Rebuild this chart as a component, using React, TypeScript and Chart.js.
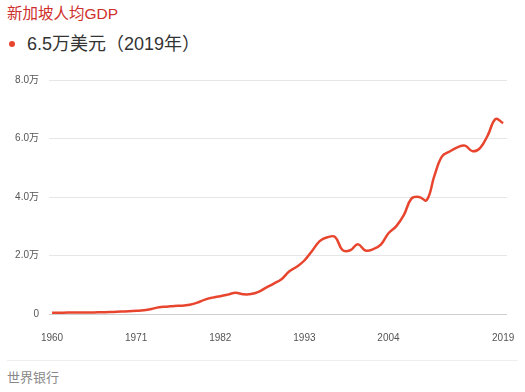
import React, { useEffect, useRef } from "react";
import { Chart, registerables } from "chart.js";

Chart.register(...registerables);

const years: number[] = [
  1960, 1961, 1962, 1963, 1964, 1965, 1966, 1967, 1968, 1969,
  1970, 1971, 1972, 1973, 1974, 1975, 1976, 1977, 1978, 1979,
  1980, 1981, 1982, 1983, 1984, 1985, 1986, 1987, 1988, 1989,
  1990, 1991, 1992, 1993, 1994, 1995, 1996, 1997, 1998, 1999,
  2000, 2001, 2002, 2003, 2004, 2005, 2006, 2007, 2008, 2009,
  2010, 2011, 2012, 2013, 2014, 2015, 2016, 2017, 2018, 2019,
];

const gdpPerCapita: number[] = [
  428, 449, 472, 511, 485, 517, 567, 626, 708, 813,
  925, 1071, 1264, 1685, 2342, 2490, 2766, 2846, 3194, 3900,
  4928, 5596, 6078, 6633, 7228, 6755, 6800, 7539, 9018, 10394,
  11862, 14502, 16136, 18290, 21553, 24915, 26233, 26376, 21829, 21796,
  23852, 21700, 22160, 23730, 27608, 29961, 33769, 39432, 40007, 38927,
  47237, 53891, 55546, 56967, 57563, 55647, 56828, 61176, 66679, 65233,
];

const xTickYears: number[] = [1960, 1971, 1982, 1993, 2004, 2019];
const yTickValues: number[] = [0, 20000, 40000, 60000, 80000];

const titleText = "新加坡人均GDP";
const subtitleText = "6.5万美元（2019年）";
const sourceText = "世界银行";

const FONT = '"Liberation Sans", "Noto Sans CJK SC", sans-serif';

export default function App() {
  const canvasRef = useRef<HTMLCanvasElement | null>(null);

  useEffect(() => {
    const canvas = canvasRef.current;
    if (!canvas) return;
    const chart = new Chart(canvas, {
      type: "line",
      data: {
        datasets: [
          {
            data: years.map((y, i) => ({ x: y, y: gdpPerCapita[i] })),
            borderColor: "#e8452f",
            borderWidth: 2.5,
            pointRadius: 0,
            tension: 0.4,
            fill: false,
          },
        ],
      },
      options: {
        animation: false,
        responsive: false,
        maintainAspectRatio: false,
        layout: { padding: { top: 20, right: 18, bottom: 4, left: 0 } },
        plugins: {
          legend: { display: false },
          tooltip: { enabled: false },
        },
        scales: {
          x: {
            type: "linear",
            min: 1959.6,
            max: 2019.5,
            grid: { display: false, drawTicks: false },
            border: { display: false },
            afterBuildTicks: (scale: any) => {
              scale.ticks = xTickYears.map((v) => ({ value: v }));
            },
            afterFit: (scale: any) => {
              scale.height = 32;
              scale.paddingLeft = 0;
              scale.paddingRight = 0;
            },
            ticks: {
              padding: 18,
              autoSkip: false,
              maxRotation: 0,
              color: "#555",
              font: { family: FONT, size: 10 },
              callback: (v: any) => String(v),
            },
          },
          y: {
            min: 0,
            max: 80000,
            grid: {
              drawTicks: false,
              color: (ctx: any) => (ctx.tick && ctx.tick.value === 0 ? "#cfcfcf" : "#e6e6e6"),
              lineWidth: 1,
            },
            border: { display: false },
            afterBuildTicks: (scale: any) => {
              scale.ticks = yTickValues.map((v) => ({ value: v }));
            },
            afterFit: (scale: any) => {
              scale.width = 49;
            },
            ticks: {
              padding: 10,
              color: "#555",
              font: { family: FONT, size: 10 },
              callback: (v: any) => (v === 0 ? "0" : (Number(v) / 10000).toFixed(1) + "万"),
            },
          },
        },
      },
    } as any);
    return () => chart.destroy();
  }, []);

  return (
    <div
      style={{
        position: "fixed",
        left: 0,
        top: 0,
        width: 525,
        height: 392,
        background: "#fff",
        fontFamily: FONT,
        overflow: "hidden",
      }}
    >
      <div
        style={{
          position: "absolute",
          left: 7,
          top: 4,
          fontSize: 15.5,
          lineHeight: "20px",
          color: "#cf2f2b",
        }}
      >
        {titleText}
      </div>
      <div
        style={{
          position: "absolute",
          left: 9,
          top: 41,
          width: 6,
          height: 6,
          borderRadius: 3,
          background: "#e8452f",
        }}
      />
      <div
        style={{
          position: "absolute",
          left: 27,
          top: 32,
          fontSize: 18,
          lineHeight: "24px",
          color: "#333",
        }}
      >
        {subtitleText}
      </div>
      <canvas
        ref={canvasRef}
        width={525}
        height={290}
        style={{ position: "absolute", left: 0, top: 60, width: 525, height: 290 }}
      />
      <div
        style={{
          position: "absolute",
          left: 7,
          top: 360,
          width: 511,
          height: 1,
          background: "#eeeeee",
        }}
      />
      <div
        style={{
          position: "absolute",
          left: 7,
          top: 369,
          fontSize: 13,
          lineHeight: "18px",
          color: "#888",
        }}
      >
        {sourceText}
      </div>
    </div>
  );
}
